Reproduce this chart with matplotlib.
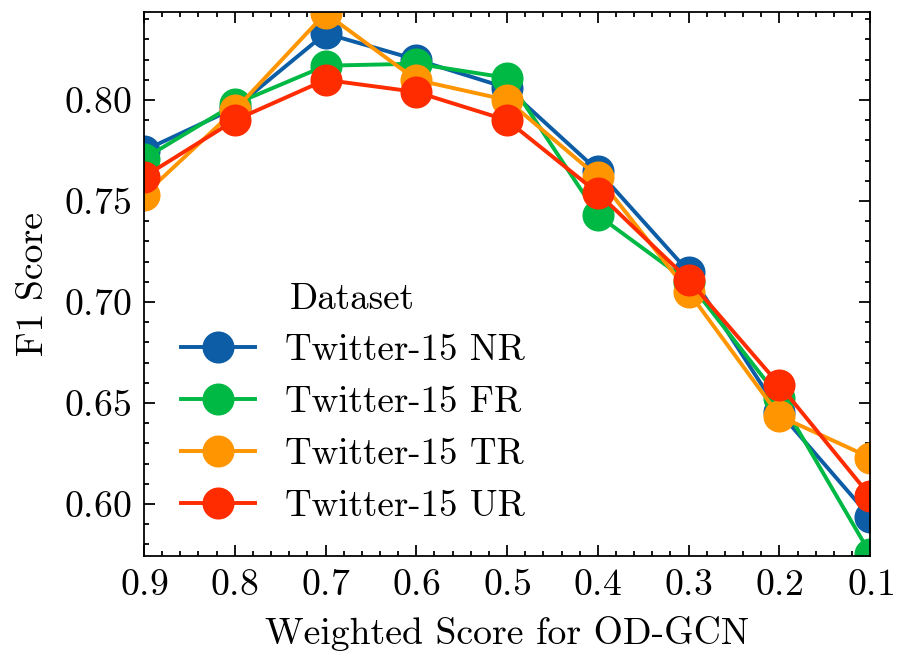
import matplotlib
matplotlib.use("Agg")
import matplotlib.pyplot as plt
from matplotlib.ticker import AutoMinorLocator

# weight values on x axis (axis runs 0.9 -> 0.1)
weights = [0.9, 0.8, 0.7, 0.6, 0.5, 0.4, 0.3, 0.2, 0.1]

# F1 scores
f1_nr = [0.775, 0.796, 0.833, 0.820, 0.806, 0.765, 0.715, 0.6455, 0.5936]
f1_fr = [0.771, 0.798, 0.817, 0.818, 0.811, 0.743, 0.710, 0.6525, 0.5755]
f1_tr = [0.753, 0.795, 0.843, 0.810, 0.800, 0.762, 0.705, 0.6436, 0.623]
f1_ur = [0.762, 0.790, 0.810, 0.804, 0.790, 0.754, 0.711, 0.659, 0.604]

labels = ["Twitter-15 NR", "Twitter-15 FR", "Twitter-15 TR", "Twitter-15 UR"]
colors = ["#0C5DA5", "#00B945", "#FF9500", "#FF2C00"]

plt.rcParams.update({
    "font.family": "serif",
    "font.serif": ["cmr10"],
    "mathtext.fontset": "cm",
    "axes.formatter.use_mathtext": True,
    "font.size": 10.6,
    "axes.linewidth": 0.5,
    "xtick.direction": "in",
    "ytick.direction": "in",
    "xtick.top": True,
    "ytick.right": True,
    "xtick.major.size": 3,
    "xtick.minor.size": 1.5,
    "ytick.major.size": 3,
    "ytick.minor.size": 1.5,
    "xtick.major.width": 0.5,
    "xtick.minor.width": 0.5,
    "ytick.major.width": 0.5,
    "ytick.minor.width": 0.5,
    "xtick.minor.visible": True,
    "ytick.minor.visible": True,
})

fig = plt.figure(figsize=(3.5, 2.54), dpi=256.3)
ax = fig.add_axes([0.1605, 0.146, 0.8095, 0.8356])

for ys, lab, c in zip([f1_nr, f1_fr, f1_tr, f1_ur], labels, colors):
    ax.plot(weights, ys, marker="o", markersize=8, linewidth=1.1,
            color=c, label=lab)

ax.set_xlim(0.9, 0.1)
ax.set_ylim(0.5743, 0.8436)
ax.set_xticks(weights)
ax.set_yticks([0.60, 0.65, 0.70, 0.75, 0.80])
ax.xaxis.set_minor_locator(AutoMinorLocator(5))
ax.yaxis.set_minor_locator(AutoMinorLocator(5))
ax.set_xlabel("Weighted Score for OD-GCN", labelpad=4)
ax.set_ylabel("F1 Score")

ax.legend(title="Dataset", frameon=False, loc="lower left",
          bbox_to_anchor=(0.005, 0.0), fontsize=10.4, title_fontsize=10.4)

fig.savefig("out.png", dpi=256.3)
